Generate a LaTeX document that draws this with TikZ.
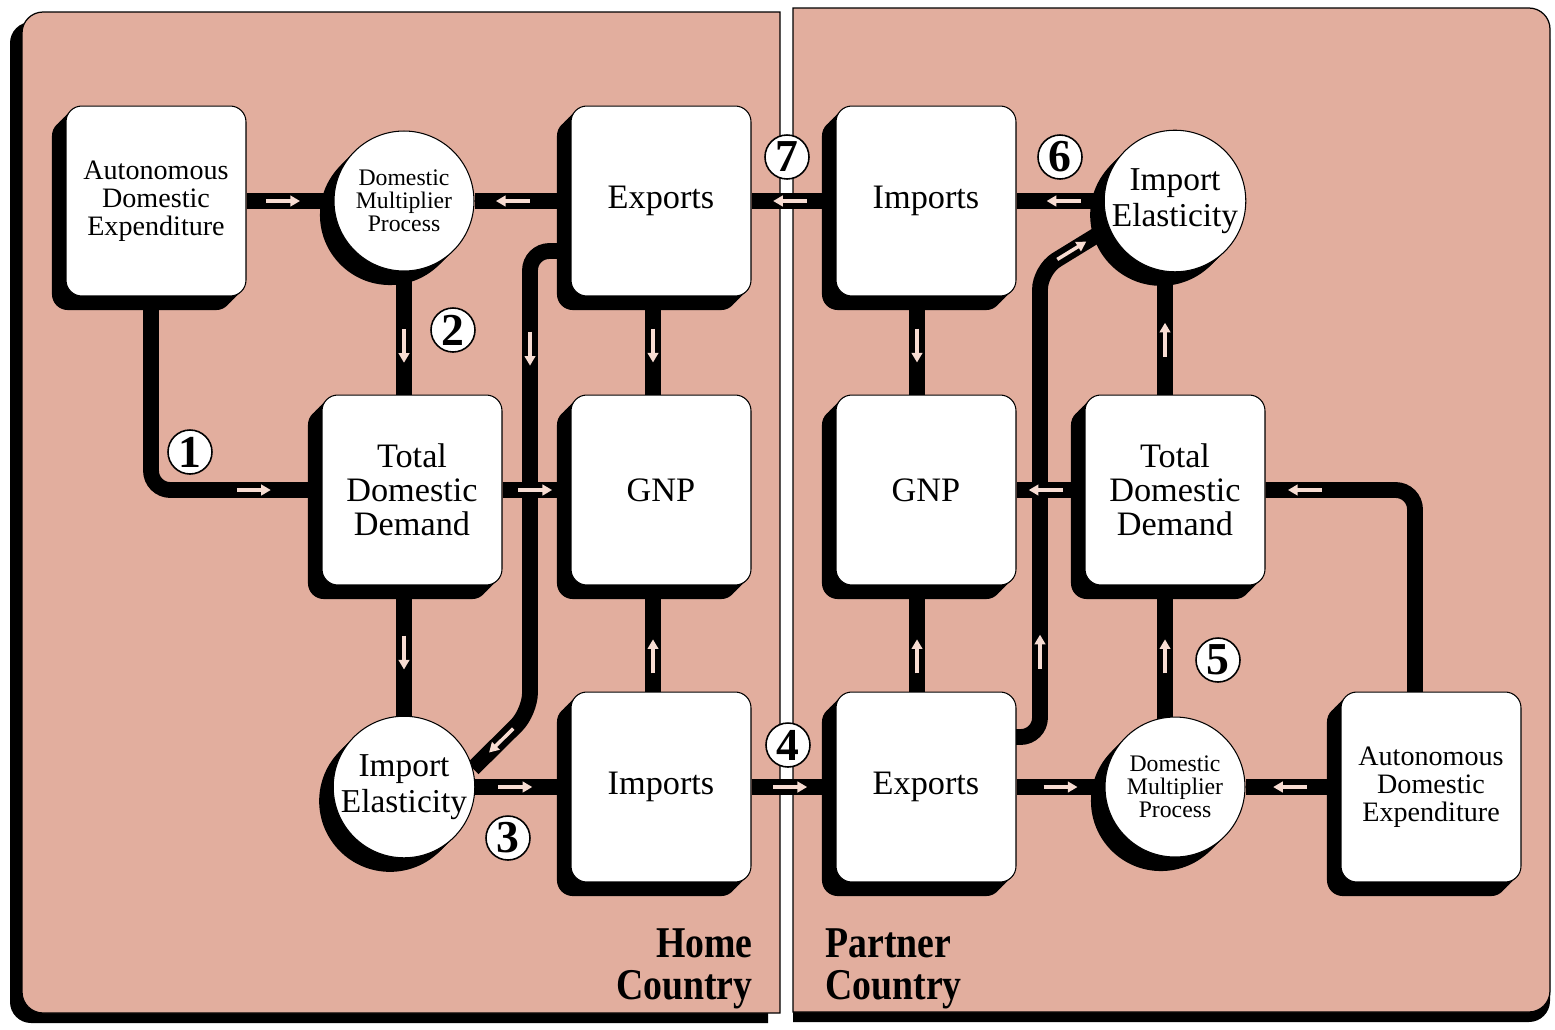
\documentclass[tikz,border=0pt]{standalone}
\usepackage{fontspec}
\setmainfont{Liberation Serif}
\newfontfamily\countryfont[FakeStretch=0.86]{Liberation Serif}
\usetikzlibrary{shadows,calc,arrows.meta,decorations.markings}

\definecolor{panelpink}{RGB}{226,174,158}
\definecolor{flowpink}{RGB}{247,220,210}

\pgfdeclarelayer{back}
\pgfdeclarelayer{links}
\pgfsetlayers{back,links,main}

\tikzset{
  block3d/.style={general shadow={fill=black,shadow xshift=-2pt,shadow yshift=-2pt},
    general shadow={fill=black,shadow xshift=-4pt,shadow yshift=-4pt},
    general shadow={fill=black,shadow xshift=-6pt,shadow yshift=-6pt},
    general shadow={fill=black,shadow xshift=-8pt,shadow yshift=-8pt}},
  box/.style={block3d,rectangle,rounded corners=9pt,fill=white,draw=black,line width=0.6pt,
    minimum width=3.6cm,minimum height=3.8cm,align=center,font=\fontsize{19.5}{19.5}\selectfont},
  bubble/.style={block3d,circle,fill=white,draw=black,line width=0.6pt,minimum size=2.8cm,
    inner sep=0pt,align=center,font=\fontsize{19}{20.5}\selectfont},
  link/.style={draw=black,line width=9pt,rounded corners=11pt},
  flowtip/.style={draw=flowpink,line width=2pt,-{Triangle[length=5.5pt,width=6pt]}},
  flowat/.style={postaction={decorate,decoration={markings,
    mark=at position #1 with {\draw[flowtip] (-17,0) -- (17,0);}}}},
  num/.style={circle,draw=black,line width=0.9pt,fill=white,inner sep=0pt,minimum size=0.88cm,
    font=\bfseries\fontsize{26}{26}\selectfont},
  country/.style={inner sep=0pt,font=\countryfont\bfseries\fontsize{25}{24}\selectfont}
}

\begin{document}
\begin{tikzpicture}[x=0.02cm,y=-0.02cm]
\useasboundingbox (0,0) rectangle (1555,1029);

% the two countries
\begin{pgfonlayer}{back}
  \fill[black] (768,22) [rounded corners=12pt] -- (10,22) -- (10,1023) [sharp corners] -- (768,1023) -- cycle;
  \filldraw[fill=panelpink,draw=black,line width=0.7pt] (780,12) [rounded corners=12pt] -- (22,12) -- (22,1013) [sharp corners] -- (780,1013) -- cycle;
  \fill[black] (793,18) [rounded corners=12pt] -- (1550,18) -- (1550,1022) [sharp corners] -- (793,1022) -- cycle;
  \filldraw[fill=panelpink,draw=black,line width=0.7pt] (793,8) [rounded corners=12pt] -- (1550,8) -- (1550,1012) [sharp corners] -- (793,1012) -- cycle;
\end{pgfonlayer}

% home country
\node[box,font=\fontsize{16}{16}\selectfont] (autoH) at (156,201) {Autonomous\\Domestic\\Expenditure};
\node[bubble,font=\fontsize{13.5}{13}\selectfont] (dmpH) at (404,201) {Domestic\\Multiplier\\Process};
\node[box] (expH) at (661,201) {Exports};
\node[box] (tddH) at (412,490) {Total\\Domestic\\Demand};
\node[box] (gnpH) at (661,490) {GNP};
\node[bubble] (impelH) at (404,787) {Import\\Elasticity};
\node[box] (impH) at (661,787) {Imports};

% partner country
\node[box] (impP) at (926,201) {Imports};
\node[bubble] (impelP) at (1175,201) {Import\\Elasticity};
\node[box] (gnpP) at (926,490) {GNP};
\node[box] (tddP) at (1175,490) {Total\\Domestic\\Demand};
\node[box] (expP) at (926,787) {Exports};
\node[bubble,font=\fontsize{13.5}{13}\selectfont] (dmpP) at (1175,787) {Domestic\\Multiplier\\Process};
\node[box,font=\fontsize{16}{16}\selectfont] (autoP) at (1431,787) {Autonomous\\Domestic\\Expenditure};

\begin{pgfonlayer}{links}
  \draw[link,flowat=0.333,flowat=0.94] ($(expH)+(0,50)$) -| (530,712) -- (impelH.15);
  \draw[link,flowat=0.294,flowat=0.933] ($(expP)+(0,-50)$) -| (1040,270) -- (impelP.202);
  \draw[link,flowat=0.85] ($(autoH)+(-5,0)$) |- (tddH);
  \draw[link,flowat=0.91] ($(autoP)+(-16,0)$) |- (tddP);
  \draw[link,flowat=0.42] (autoH) -- (dmpH);
  \draw[link,flowat=0.6] (expH) -- (dmpH);
  \draw[link,flowat=0.34] (dmpH) -- (dmpH |- tddH);
  \draw[link,flowat=0.5] ($(expH)+(-8,0)$) -- ($(gnpH)+(-8,0)$);
  \draw[link,flowat=0.48] (tddH) -- (gnpH);
  \draw[link,flowat=0.72] (impelH |- tddH) -- (impelH);
  \draw[link,flowat=0.44] ($(impH)+(-8,0)$) -- ($(gnpH)+(-8,0)$);
  \draw[link,flowat=0.42] (impelH) -- (impH);
  \draw[link,flowat=0.46] (impH) -- (expP);
  \draw[link,flowat=0.54] (impP) -- (expH);
  \draw[link,flowat=0.46] (impelP) -- (impP);
  \draw[link,flowat=0.5] ($(impP)+(-9,0)$) -- ($(gnpP)+(-9,0)$);
  \draw[link,flowat=0.44] ($(expP)+(-9,0)$) -- ($(gnpP)+(-9,0)$);
  \draw[link,flowat=0.52] ($(tddP)+(-10,0)$) -- ($(impelP)+(-10,0)$);
  \draw[link,flowat=0.44] ($(dmpP)+(-10,0)$) -- ($(tddP)+(-10,0)$);
  \draw[link,flowat=0.57] (tddP) -- (gnpP);
  \draw[link,flowat=0.5] (expP) -- (dmpP);
  \draw[link,flowat=0.53] (autoP) -- (dmpP);
\end{pgfonlayer}

% numbered steps
\node[num] (n1) at (190,452) {1};
\node[num] (n2) at (453,330) {2};
\node[num] (n3) at (508,838) {3};
\node[num] (n4) at (788,745) {4};
\node[num] (n5) at (1218,660) {5};
\node[num] (n6) at (1060,157) {6};
\node[num] (n7) at (787,157) {7};

\node[country,anchor=north east,align=right] (home) at (753,928) {Home\\Country};
\node[country,anchor=north west,align=left] (partner) at (825,928) {Partner\\Country};
\end{tikzpicture}
\end{document}
